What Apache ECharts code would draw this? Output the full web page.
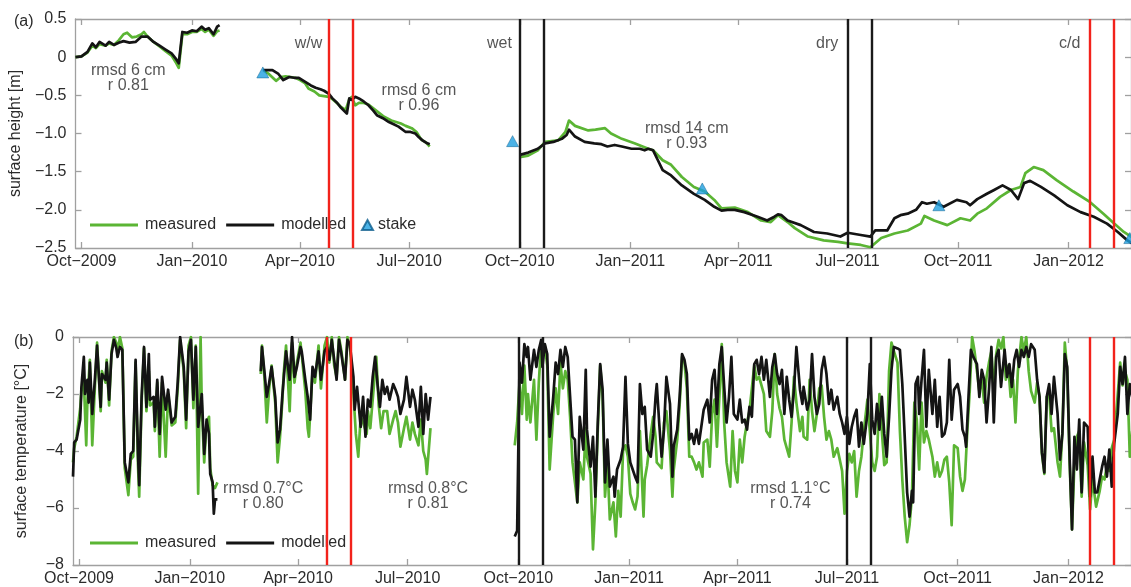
<!DOCTYPE html>
<html>
<head>
<meta charset="utf-8">
<script src="https://cdn.jsdelivr.net/npm/echarts@6/dist/echarts.min.js"></script>
<style>
  html, body { margin: 0; padding: 0; background: #fff; }
  #main { width: 1131px; height: 587px; }
</style>
</head>
<body>
<div id="main"></div>
<script>
// x values are days since 1 Oct 2009
var startDate = '2009-10-01';
var tickDates = ['2009-10-01', '2010-01-01', '2010-04-01', '2010-07-01', '2010-10-01',
                 '2011-01-01', '2011-04-01', '2011-07-01', '2011-10-01', '2012-01-01'];
var monthNames = ['Jan', 'Feb', 'Mar', 'Apr', 'May', 'Jun', 'Jul', 'Aug', 'Sep', 'Oct', 'Nov', 'Dec'];
var heightTicks = [0.5, 0, -0.5, -1.0, -1.5, -2.0, -2.5];
var tempTicks = [0, -2, -4, -6, -8];

// (a) surface height [m]
var heightMeas1 = [[-5,0.0],[0,0.01],[5,0.06],[9,0.15],[12,0.12],[15,0.17],[20,0.15],[23,0.18],[27,0.16],[31,0.22],[35,0.3],[38,0.32],[42,0.26],[46,0.27],[50,0.3],[52,0.33],[55,0.27],[60,0.2],[65,0.14],[70,0.08],[75,0.02],[79,-0.08],[81,-0.14],[84,0.3],[88,0.3],[92,0.33],[96,0.33],[100,0.37],[103,0.33],[106,0.36],[110,0.28],[113,0.34],[115,0.35]];
var heightMeas2 = [[152,-0.18],[156,-0.22],[160,-0.28],[162,-0.31],[166,-0.26],[170,-0.25],[174,-0.26],[178,-0.27],[182,-0.3],[186,-0.34],[189,-0.41],[194,-0.45],[198,-0.5],[202,-0.51],[206,-0.52],[209,-0.55],[212,-0.59],[216,-0.65],[220,-0.69],[223,-0.55],[225,-0.52],[228,-0.63],[231,-0.6],[235,-0.6],[239,-0.62],[243,-0.67],[247,-0.72],[252,-0.78],[258,-0.83],[262,-0.85],[266,-0.87],[270,-0.9],[275,-0.93],[279,-0.98],[283,-1.08],[287,-1.12],[290,-1.17]];
var heightMeas3 = [[365,-1.31],[372,-1.29],[380,-1.22],[386,-1.11],[397,-1.09],[403,-0.98],[406,-0.83],[411,-0.9],[422,-0.96],[428,-0.95],[436,-0.93],[441,-1.0],[450,-1.07],[461,-1.13],[472,-1.2],[476,-1.22],[484,-1.35],[491,-1.41],[500,-1.57],[510,-1.7],[519,-1.76],[527,-1.87],[533,-1.98],[544,-1.97],[555,-2.03],[566,-2.14],[574,-2.16],[580,-2.07],[588,-2.16],[594,-2.24],[605,-2.35],[618,-2.4],[630,-2.42],[638,-2.44],[649,-2.46],[657,-2.49],[666,-2.37],[677,-2.31],[688,-2.27],[699,-2.18],[702,-2.08],[710,-2.14],[721,-2.2],[732,-2.11],[740,-2.14],[746,-2.05],[754,-1.98],[765,-1.83],[774,-1.74],[782,-1.7],[786,-1.52],[793,-1.44],[801,-1.48],[812,-1.61],[826,-1.76],[840,-1.9],[851,-2.05],[860,-2.18],[868,-2.29],[875,-2.36]];
var heightModel1 = [[-5,0.0],[0,0.01],[5,0.07],[9,0.18],[12,0.13],[15,0.2],[20,0.15],[23,0.2],[27,0.16],[31,0.19],[35,0.21],[40,0.19],[45,0.2],[50,0.27],[55,0.27],[60,0.2],[65,0.15],[70,0.1],[75,0.05],[79,-0.03],[81,-0.08],[84,0.33],[88,0.32],[92,0.35],[96,0.34],[100,0.4],[103,0.36],[106,0.38],[110,0.3],[113,0.4],[115,0.42]];
var heightModel2 = [[151,-0.17],[159,-0.17],[164,-0.22],[168,-0.3],[173,-0.26],[177,-0.27],[181,-0.27],[186,-0.32],[191,-0.37],[195,-0.4],[199,-0.42],[202,-0.44],[206,-0.48],[209,-0.54],[213,-0.6],[216,-0.66],[221,-0.74],[223,-0.54],[225,-0.56],[228,-0.52],[231,-0.54],[235,-0.58],[239,-0.63],[243,-0.7],[246,-0.76],[251,-0.8],[256,-0.85],[260,-0.88],[264,-0.91],[270,-0.98],[274,-0.98],[278,-1.0],[281,-1.05],[284,-1.09],[287,-1.12],[290,-1.14]];
var heightModel3 = [[365,-1.28],[372,-1.25],[380,-1.2],[386,-1.13],[393,-1.11],[400,-1.07],[404,-1.02],[406,-0.95],[411,-1.04],[419,-1.11],[427,-1.13],[433,-1.14],[438,-1.17],[444,-1.15],[450,-1.17],[458,-1.2],[465,-1.2],[469,-1.22],[472,-1.2],[476,-1.22],[480,-1.35],[484,-1.48],[491,-1.55],[500,-1.68],[510,-1.79],[519,-1.87],[527,-1.96],[533,-2.01],[538,-2.0],[544,-2.0],[552,-2.03],[563,-2.09],[571,-2.14],[577,-2.09],[580,-2.06],[583,-2.07],[588,-2.14],[599,-2.2],[610,-2.29],[621,-2.31],[632,-2.35],[638,-2.3],[649,-2.33],[657,-2.35],[661,-2.27],[671,-2.27],[677,-2.11],[682,-2.07],[688,-2.05],[695,-2.0],[700,-1.9],[704,-1.92],[710,-1.9],[718,-1.96],[729,-1.87],[737,-1.9],[740,-1.94],[746,-1.86],[754,-1.79],[760,-1.74],[767,-1.68],[774,-1.74],[780,-1.86],[785,-1.65],[790,-1.62],[799,-1.7],[810,-1.81],[821,-1.94],[832,-2.03],[843,-2.09],[854,-2.18],[863,-2.29],[871,-2.4],[875,-2.44]];
var stakes = [[151,-0.2],[359,-1.1],[517,-1.72],[714,-1.94],[873,-2.37]];

// (b) surface temperature [°C]
var tempMeas1 = [[-5,-4.4],[-4,-3.9],[-2,-3.5],[1,-2.5],[2,-1.9],[4,-1.5],[6,-3.8],[7,-2.2],[9,-0.8],[11,-3.8],[13,-1.9],[15,-0.2],[18,-2.6],[19,-1.2],[22,-1.6],[23,-0.8],[25,-2.4],[27,-0.5],[29,0],[31,-0.2],[32,-0.6],[34,0],[36,-0.4],[38,-4.6],[41,-5.55],[43,-4.3],[45,-4.2],[47,-0.9],[49,-4.5],[50,-5.6],[52,-2.3],[54,-0.4],[56,-2.6],[58,-1.2],[59,-2.4],[62,-2.3],[63,-3.3],[65,-1.6],[67,-4.2],[69,-1.6],[72,-4.2],[74,-2.0],[77,-3.1],[80,-3.0],[82,-1.8],[84,-0.1],[87,-1.2],[89,-3.2],[91,-0.3],[93,0],[95,-2.5],[97,-0.3],[99,-5.5],[101,0],[102,-2.4],[104,-4.4],[106,-3.0],[108,-2.8],[109,-4.6],[111,-5.2],[113,-5.3],[115,-5.1]];
var tempMeas2 = [[151,-1.3],[152,-0.3],[154,-1.4],[156,-3.0],[158,-1.8],[160,-1.0],[163,-2.3],[165,-4.4],[167,-3.5],[169,-2.2],[170,-1.3],[172,-0.3],[175,-2.6],[177,-0.2],[179,-1.6],[181,-0.9],[184,-0.2],[185,-0.6],[188,-1.9],[190,-3.2],[191,-3.5],[194,-1.2],[196,-1.6],[199,-0.3],[201,-1.8],[204,-0.3],[206,0],[208,-0.9],[210,0],[212,-1.0],[214,-1.4],[216,0],[218,-0.5],[221,-1.5],[223,0],[225,-0.3],[228,-2.0],[230,-3.4],[232,-4.2],[234,-2.8],[236,-3.0],[239,-3.4],[240,-2.6],[242,-3.2],[244,-2.2],[247,-0.7],[249,-2.4],[251,-3.2],[253,-2.6],[256,-2.6],[258,-3.4],[261,-2.9],[263,-2.6],[265,-3.0],[267,-3.85],[270,-3.2],[272,-2.8],[275,-3.6],[277,-3.0],[279,-3.4],[282,-3.8],[284,-2.9],[286,-4.0],[288,-4.3],[289,-4.8],[292,-3.2]];
var tempMeas3 = [[362,-3.8],[364,-3.0],[366,-1.6],[368,-2.7],[370,-1.0],[372,-2.9],[373,-2.0],[375,-3.0],[378,-1.5],[380,-3.6],[382,-1.6],[384,-0.2],[385,-0.5],[387,-0.3],[389,-1.0],[391,-4.65],[394,-2.7],[396,-1.8],[398,-2.7],[400,-0.9],[402,-1.8],[404,-1.2],[406,-1.5],[408,-2.8],[410,-4.4],[412,-5.1],[414,-5.8],[416,-4.4],[419,-5.0],[421,-3.2],[422,-4.2],[425,-4.8],[427,-7.45],[429,-5.8],[431,-3.25],[433,-1.0],[435,-2.1],[437,-5.6],[439,-4.4],[441,-6.4],[444,-5.8],[446,-7.0],[448,-5.4],[450,-6.3],[452,-4.0],[454,-3.8],[456,-4.2],[458,-5.5],[460,-5.8],[462,-6.05],[464,-5.6],[466,-3.3],[469,-6.3],[470,-5.0],[472,-4.5],[475,-3.4],[477,-2.8],[479,-3.5],[480,-4.4],[482,-4.5],[484,-4.6],[486,-3.0],[488,-2.6],[491,-4.0],[493,-5.6],[494,-4.7],[497,-3.6],[499,-2.4],[501,-0.7],[503,-0.9],[505,-1.8],[507,-4.2],[509,-4.2],[511,-4.4],[513,-4.65],[515,-4.4],[518,-4.9],[519,-3.7],[522,-3.6],[524,-4.55],[526,-2.7],[528,-2.2],[530,-3.85],[532,-2.1],[534,-0.25],[536,-3.0],[538,-4.4],[541,-5.25],[543,-3.3],[545,-4.7],[547,-5.1],[549,-3.6],[551,-4.4],[553,-3.5],[555,-3.0],[557,-2.6],[559,-1.8],[561,-1.0],[563,-1.5],[565,-1.4],[567,-1.7],[569,-2.0],[571,-3.3],[574,-3.5],[576,-2.6],[578,-0.6],[580,-2.0],[582,-2.5],[584,-2.8],[586,-3.6],[588,-3.9],[590,-4.2],[592,-3.0],[594,-1.4],[596,-2.3],[599,-3.3],[601,-2.8],[602,-3.5],[605,-3.6],[607,-1.5],[609,-2.6],[611,-3.3],[613,-2.7],[615,-1.8],[617,-1.7],[619,-2.8],[621,-3.6],[623,-3.3],[625,-3.6],[627,-4.2],[630,-3.9],[632,-4.3],[634,-4.7],[636,-6.2],[638,-4.7],[640,-4.1],[642,-4.4],[644,-4.0],[646,-5.6],[648,-4.7],[650,-4.2],[652,-3.3],[655,-2.2],[657,-3.3],[659,-4.4],[661,-4.7],[663,-4.2],[665,-2.0],[667,-3.3],[669,-4.5],[671,-4.4],[673,-1.2],[675,-0.2],[677,-0.5],[680,-0.9],[682,-3.3],[684,-5.0],[686,-6.3],[688,-7.2],[690,-6.6],[692,-5.6],[694,-2.3],[696,-2.9],[698,-4.65],[700,-2.3],[702,-3.7],[704,-3.3],[706,-3.6],[709,-4.2],[711,-4.9],[713,-4.4],[715,-4.9],[717,-4.7],[719,-4.3],[721,-4.2],[723,-5.1],[725,-6.6],[727,-3.8],[730,-3.9],[732,-4.9],[734,-5.4],[736,-5.0],[738,-3.3],[740,-1.9],[742,0],[744,-0.5],[746,-1.2],[748,-1.9],[750,-1.5],[752,-2.3],[754,-1.4],[756,-0.9],[758,-0.5],[760,-1.9],[762,-0.6],[764,-0.1],[766,-0.4],[768,0],[770,-1.5],[772,-1.0],[774,-2.1],[776,-1.5],[778,-3.0],[780,-1.2],[783,0],[785,-0.5],[787,0],[789,-1.2],[791,-1.9],[794,-2.3],[796,-1.6],[798,-2.1],[800,-4.1],[802,-4.8],[804,-2.1],[806,-2.0],[808,-3.3],[810,-3.2],[813,-4.4],[815,-4.9],[817,-3.3],[819,-0.2],[821,-1.2],[823,-4.4],[825,-6.75],[827,-4.4],[829,-3.5],[831,-3.3],[833,-5.6],[835,-3.7],[838,-4.5],[840,-6.05],[842,-5.0],[845,-5.95],[848,-5.4],[850,-4.9],[852,-5.0],[854,-4.5],[856,-4.7],[858,-3.9],[860,-3.6],[863,-2.0],[865,-0.9],[867,-1.7],[869,-1.2],[871,-1.5],[873,-4.2],[875,-3.3]];
var tempModel1 = [[-5,-4.9],[-4,-3.7],[-2,-3.6],[1,-2.9],[2,-1.75],[4,-0.7],[5,-2.0],[7,-1.5],[8,-2.3],[9,-0.9],[11,-2.7],[13,-1.6],[15,-0.3],[18,-2.45],[19,-1.3],[22,-1.5],[23,-0.9],[25,-2.2],[27,-0.6],[29,-0.1],[31,-0.4],[32,-0.7],[34,-0.35],[36,-0.45],[38,-4.4],[41,-5.1],[43,-4.1],[45,-4.0],[47,-0.8],[49,-4.1],[50,-5.2],[52,-2.1],[54,-0.35],[56,-2.45],[58,-0.6],[59,-2.2],[62,-2.1],[63,-3.15],[65,-1.5],[67,-3.4],[69,-1.4],[72,-2.55],[74,-1.85],[77,-3.0],[80,-2.8],[82,-1.6],[84,0],[87,-1.05],[89,-2.9],[91,-0.5],[93,-0.1],[95,-2.2],[97,-0.35],[99,-3.15],[102,-2.0],[104,-4.1],[106,-2.9],[108,-3.4],[109,-4.8],[111,-5.1],[112,-6.2],[113,-5.7],[115,-5.7]];
var tempModel2 = [[151,-1.2],[152,-0.35],[154,-1.2],[156,-2.1],[158,-1.6],[160,-1.05],[163,-2.1],[165,-3.7],[167,-3.25],[169,-2.0],[170,-1.5],[172,-0.5],[175,-1.5],[177,0],[179,-1.4],[181,-1.05],[184,-0.35],[185,-0.5],[188,-1.5],[190,-2.1],[192,-2.9],[194,-1.05],[196,-1.4],[199,-0.5],[201,-1.5],[204,-0.5],[206,-0.35],[208,-0.8],[210,-0.1],[212,-0.8],[214,-1.5],[216,-0.1],[218,-0.6],[221,-1.5],[223,-0.1],[225,-0.25],[228,-1.4],[229,-2.55],[231,-1.75],[234,-3.15],[236,-2.1],[238,-3.5],[240,-2.2],[242,-2.45],[244,-1.4],[246,-0.7],[248,-1.65],[250,-2.45],[252,-1.5],[254,-2.0],[256,-1.75],[258,-2.2],[261,-1.65],[263,-1.85],[265,-2.1],[267,-2.7],[270,-2.2],[272,-1.4],[275,-2.45],[277,-1.85],[279,-2.2],[282,-3.15],[284,-1.75],[286,-3.4],[288,-2.0],[290,-2.9],[292,-2.1]];
var tempModel3 = [[362,-7.0],[364,-6.8],[366,-0.9],[368,-1.6],[370,-0.25],[372,-0.7],[373,-0.35],[375,-1.5],[378,-0.45],[380,-1.05],[382,-0.45],[384,-0.1],[385,-1.05],[387,-0.25],[389,-0.6],[391,-3.5],[394,-2.1],[396,-0.9],[398,-1.3],[400,-0.45],[402,-1.05],[404,-0.35],[406,-0.7],[408,-2.1],[410,-3.5],[412,-3.6],[414,-5.8],[416,-2.8],[419,-3.95],[421,-1.15],[422,-3.25],[425,-4.55],[427,-3.5],[429,-5.6],[431,-3.0],[433,-0.95],[435,-1.85],[437,-5.1],[439,-3.6],[441,-5.25],[444,-4.9],[445,-5.6],[447,-4.65],[450,-4.3],[452,-3.85],[454,-1.4],[456,-3.75],[458,-4.4],[460,-4.65],[462,-4.9],[464,-5.1],[466,-1.65],[468,-2.7],[470,-2.45],[472,-3.95],[475,-4.2],[477,-3.4],[479,-2.1],[480,-1.65],[482,-3.0],[484,-4.2],[486,-3.25],[488,-1.4],[491,-2.35],[493,-4.9],[494,-3.85],[497,-3.25],[499,-2.1],[501,-0.6],[503,-0.8],[505,-1.3],[507,-3.6],[509,-3.4],[511,-3.75],[513,-3.25],[515,-3.75],[517,-3.15],[519,-2.55],[522,-2.2],[524,-3.0],[526,-1.5],[528,-1.15],[530,-2.7],[532,-0.95],[534,-0.35],[536,-1.75],[538,-3.0],[540,-2.1],[542,-0.7],[544,-2.7],[547,-2.9],[549,-2.2],[551,-3.0],[553,-2.9],[555,-3.25],[557,-2.45],[559,-2.8],[561,-0.95],[563,-0.8],[565,-1.3],[567,-0.7],[569,-1.5],[571,-0.8],[574,-2.1],[576,-1.05],[578,-0.6],[580,-1.3],[582,-1.65],[584,-1.15],[586,-2.7],[588,-1.4],[590,-2.2],[592,-2.8],[594,-1.85],[596,-0.35],[599,-1.85],[601,-2.35],[602,-1.75],[605,-2.55],[607,-2.2],[609,-0.6],[611,-2.1],[613,-2.7],[615,-2.35],[617,-1.15],[619,-0.7],[621,-1.3],[623,-2.35],[625,-1.85],[627,-2.55],[630,-2.1],[632,-2.7],[634,-3.0],[636,-3.4],[638,-2.8],[640,-3.75],[642,-3.15],[644,-2.8],[646,-2.55],[648,-3.85],[650,-3.0],[652,-3.75],[655,-2.7],[657,-0.95],[659,-2.9],[661,-3.4],[663,-2.35],[665,-3.25],[667,-2.1],[669,-3.4],[671,-4.2],[673,-2.8],[675,-1.15],[677,-0.35],[680,-0.4],[682,-0.45],[684,-1.65],[686,-3.5],[688,-5.45],[690,-6.3],[692,-5.4],[693,-5.8],[695,-1.65],[697,-1.4],[698,-2.7],[700,-1.5],[702,-0.45],[704,-3.15],[706,-1.15],[709,-2.7],[711,-1.5],[713,-3.15],[715,-2.1],[717,-3.5],[719,-3.4],[721,-3.0],[723,-0.8],[725,-2.9],[727,-1.85],[730,-1.65],[732,-2.1],[734,-3.25],[736,-3.5],[737,-3.85],[739,-2.1],[741,-0.45],[743,-0.7],[746,-0.95],[748,-2.1],[750,-1.15],[752,-1.5],[754,-3.0],[756,-1.85],[758,-0.35],[760,-3.0],[762,-0.7],[764,-0.45],[766,-1.75],[769,-0.45],[771,-1.4],[773,-0.95],[775,-1.75],[777,-0.8],[779,-0.45],[781,-1.05],[783,-0.45],[785,-0.7],[787,-0.35],[789,-0.7],[791,-0.25],[794,-0.45],[796,-1.5],[798,-2.1],[800,-4.05],[802,-4.75],[804,-2.1],[806,-1.65],[808,-2.7],[810,-1.4],[813,-2.7],[815,-4.3],[817,-3.4],[819,-0.6],[821,-1.05],[823,-4.2],[825,-6.75],[827,-3.5],[829,-4.65],[831,-2.9],[833,-5.45],[835,-3.0],[838,-3.15],[840,-5.6],[842,-4.2],[844,-5.45],[846,-5.45],[848,-5.0],[850,-4.55],[852,-4.2],[854,-4.9],[856,-3.95],[858,-5.25],[860,-3.75],[863,-2.7],[865,-1.05],[867,-1.65],[869,-0.7],[871,-2.7],[873,-1.65],[875,-2.1]];

// event periods (two lines each)
var eventNames = ['w/w', 'wet', 'dry', 'c/d'];
var eventDays = [[206, 226], [365, 385], [638, 658], [840, 860]];
var eventColors = ['#f2221b', '#1a1a1a', '#1a1a1a', '#f2221b'];
var statsA = ['rmsd 6 cm\nr 0.81', 'rmsd 6 cm\nr 0.96', 'rmsd 14 cm\nr 0.93'];
var statsB = ['rmsd 0.7°C\nr 0.80', 'rmsd 0.8°C\nr 0.81', 'rmsd 1.1°C\nr 0.74'];

var GREEN = '#5bb534', BLACK = '#141414', GREY = '#a0a0a0', TXT = '#2b2b2b';
var FONT = '"Liberation Sans", Arial, Helvetica, sans-serif';
var MINUS = '\u2212';

var t0 = Date.parse(startDate);
function dayOf(s) { return Math.round((Date.parse(s) - t0) / 864e5); }
var tickDays = tickDates.map(dayOf);
var tickLabel = {};
tickDates.forEach(function (s, i) {
  var p = s.split('-');
  tickLabel[tickDays[i]] = monthNames[+p[1] - 1] + MINUS + p[0];
});

function joinSegs(segs) {
  var out = [];
  segs.forEach(function (s, i) {
    if (i > 0) out.push([s[0][0] - 1, null]);
    out = out.concat(s);
  });
  return out;
}

var XMIN = -5, XMAX = 874;

function xAxes(grid, top) {
  return {
    type: 'value', gridIndex: grid, min: XMIN, max: XMAX,
    position: top ? 'top' : 'bottom',
    axisLine: { show: true, onZero: false, lineStyle: { color: GREY, width: 1.3 } },
    axisTick: { show: true, inside: true, length: 6, customValues: tickDays, lineStyle: { color: GREY, width: 1.3 } },
    axisLabel: {
      show: !top, customValues: tickDays, margin: 6, color: TXT, fontSize: 16, fontFamily: FONT,
      formatter: function (v) { return tickLabel[Math.round(v)] || ''; }
    },
    splitLine: { show: false }
  };
}

function yAxes(grid, right, min, max, interval, fmt, name) {
  return {
    type: 'value', gridIndex: grid, min: min, max: max, interval: interval,
    position: right ? 'right' : 'left',
    name: right ? '' : name, nameLocation: 'middle', nameGap: 43, nameRotate: 90,
    nameTextStyle: { color: TXT, fontSize: 16, fontFamily: FONT },
    axisLine: { show: true, onZero: false, lineStyle: { color: GREY, width: 1.3 } },
    axisTick: { show: true, inside: true, length: 6, lineStyle: { color: GREY, width: 1.3 } },
    axisLabel: { show: !right, margin: 9, color: TXT, fontSize: 16, fontFamily: FONT, formatter: fmt },
    splitLine: { show: false }
  };
}

function fmtHeight(v) { return v === 0 ? '0' : (v < 0 ? MINUS : '') + Math.abs(v).toFixed(1); }
function fmtTemp(v) { return v === 0 ? '0' : (v < 0 ? MINUS : '') + Math.abs(v); }

function lineSeries(name, color, data, ax) {
  return {
    name: name, type: 'line', xAxisIndex: ax, yAxisIndex: ax, data: data,
    showSymbol: false, symbol: 'none', connectNulls: false, clip: true,
    lineStyle: { color: color, width: 2.7, join: 'round' }, itemStyle: { color: color },
    silent: true, z: 3
  };
}

function eventSeries(ax) {
  var lines = [];
  eventDays.forEach(function (pair, i) {
    pair.forEach(function (d) {
      lines.push({ xAxis: d, lineStyle: { color: eventColors[i], width: 2.4, type: 'solid' } });
    });
  });
  return {
    type: 'line', xAxisIndex: ax, yAxisIndex: ax, data: [], silent: true, z: 2,
    markLine: { silent: true, symbol: ['none', 'none'], label: { show: false }, animation: false, data: lines }
  };
}

function textSeries(ax, points, texts) {
  return {
    type: 'scatter', xAxisIndex: ax, yAxisIndex: ax, silent: true, z: 5,
    symbolSize: 1, itemStyle: { color: 'rgba(0,0,0,0)' },
    label: {
      show: true, position: 'inside', color: TXT, fontSize: 16, lineHeight: 15, fontFamily: FONT, align: 'center',
      textBorderWidth: 0,
      formatter: function (p) { return texts[p.dataIndex]; }
    },
    data: points
  };
}

// label anchors (data coordinates)
var eventLabelPts = eventDays.map(function (p) { return [p[0] - 17, 0.18]; });
var statsAPts = [[39, -0.27], [281, -0.54], [504, -1.03]];
var statsBPts = [[153, -5.57], [290, -5.57], [591, -5.57]];

function legendPair(top) {
  return {
    left: 85, top: top, orient: 'horizontal', backgroundColor: '#fff',
    padding: [5, 10, 5, 5], itemWidth: 48, itemHeight: 2.8, itemGap: 10,
    textStyle: { color: TXT, fontSize: 16, fontFamily: FONT, padding: [0, 0, 0, 2] },
    selectedMode: false,
    data: [{ name: 'measured', icon: 'rect' }, { name: 'modelled', icon: 'rect' }]
  };
}

var chart = echarts.init(document.getElementById('main'), null, { renderer: 'canvas' });
chart.setOption({
  animation: false,
  backgroundColor: '#fff',
  textStyle: { fontFamily: FONT },
  title: [
    { text: '(a)', left: 9, top: 9, textStyle: { fontSize: 16, fontWeight: 'normal', color: TXT, fontFamily: FONT } },
    { text: '(b)', left: 9, top: 329, textStyle: { fontSize: 16, fontWeight: 'normal', color: TXT, fontFamily: FONT } }
  ],
  grid: [
    { left: 73, right: 0, top: 19, height: 229 },
    { left: 73, right: 0, top: 337, height: 229 }
  ],
  legend: [
    legendPair(212),
    {
      left: 355, top: 212, backgroundColor: '#fff', padding: [5, 8, 5, 6],
      itemWidth: 11, itemHeight: 10, selectedMode: false,
      textStyle: { color: TXT, fontSize: 16, fontFamily: FONT },
      data: [{ name: 'stake', icon: 'triangle' }]
    },
    legendPair(530)
  ],
  xAxis: [xAxes(0, false), xAxes(0, true), xAxes(1, false), xAxes(1, true)],
  yAxis: [
    yAxes(0, false, -2.5, 0.5, 0.5, fmtHeight, 'surface height [m]'),
    yAxes(0, true, -2.5, 0.5, 0.5, fmtHeight),
    yAxes(1, false, -8, 0, 2, fmtTemp, 'surface temperature [°C]'),
    yAxes(1, true, -8, 0, 2, fmtTemp)
  ],
  series: [
    eventSeries(0),
    eventSeries(2),
    lineSeries('measured', GREEN, joinSegs([heightMeas1, heightMeas2, heightMeas3]), 0),
    lineSeries('modelled', BLACK, joinSegs([heightModel1, heightModel2, heightModel3]), 0),
    {
      name: 'stake', type: 'scatter', xAxisIndex: 0, yAxisIndex: 0, data: stakes,
      symbol: 'triangle', symbolSize: [12, 11], silent: true, z: 4,
      itemStyle: { color: '#1e9fe0', borderColor: '#0c5d8c', borderWidth: 0.6 }
    },
    lineSeries('measured', GREEN, joinSegs([tempMeas1, tempMeas2, tempMeas3]), 2),
    lineSeries('modelled', BLACK, joinSegs([tempModel1, tempModel2, tempModel3]), 2),
    textSeries(0, eventLabelPts, eventNames),
    textSeries(0, statsAPts, statsA),
    textSeries(2, statsBPts, statsB)
  ]
});
</script>
</body>
</html>
